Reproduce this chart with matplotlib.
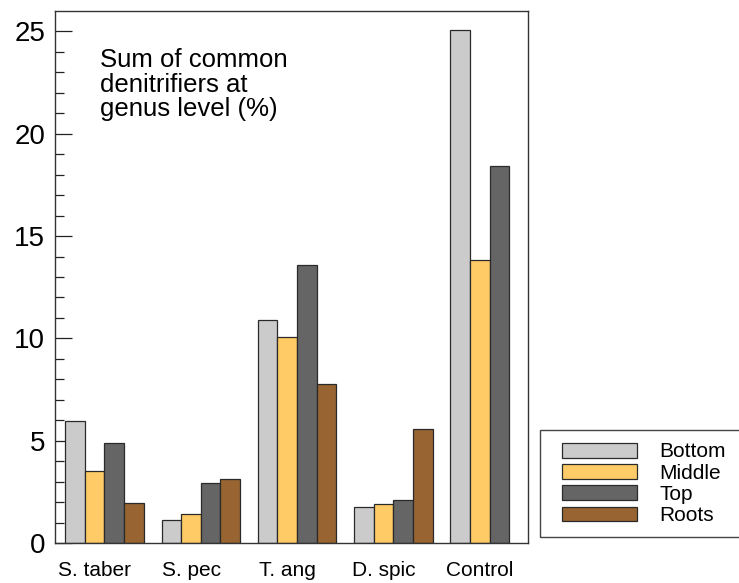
import numpy as np
import matplotlib
matplotlib.use("Agg")
import matplotlib.pyplot as plt
from matplotlib.patches import Patch, Rectangle

plt.rcParams['font.family'] = ['Liberation Sans', 'DejaVu Sans']

# denitrifier sums per site and layer (%)
sites = ['S. taber', 'S. pec', 'T. ang', 'D. spic', 'Control']
bottom = [5.95, 1.1, 10.88, 1.75, 25.05]
middle = [3.5, 1.4, 10.05, 1.93, 13.83]
top = [4.9, 2.92, 13.58, 2.1, 18.43]
roots = [1.96, 3.15, 7.75, 5.58, np.nan]

layers = ['Bottom', 'Middle', 'Top', 'Roots']
colors = ['#cbcbcb', '#fecb66', '#656565', '#976432']

fig = plt.figure(figsize=(7.39, 5.83), dpi=100)
ax = fig.add_axes([55 / 739, 1 - 543 / 583, 473 / 739, 532 / 583])

x = np.arange(len(sites))
w = 0.2035
series = [bottom, middle, top, roots]
for i, (vals, c) in enumerate(zip(series, colors)):
    ax.bar(x + (i - 1.5) * w, vals, w, color=c, edgecolor='#2a2a2a',
           linewidth=0.9, zorder=2)

ax.set_xlim(-0.514, 4.398)
ax.set_ylim(0, 26.0)
ax.set_yticks([0, 5, 10, 15, 20, 25])
ax.set_yticks(np.arange(0, 26, 1), minor=True)
ax.tick_params(axis='y', which='major', direction='in', length=12, width=0.9,
               pad=7, labelsize=20, colors='#222222', labelcolor='black')
ax.tick_params(axis='y', which='minor', direction='in', length=6.5, width=0.9,
               colors='#222222')
ax.set_xticks(x - 0.1)
ax.set_xticklabels(sites)
ax.tick_params(axis='x', length=0, pad=13, labelsize=15)
for s in ax.spines.values():
    s.set_linewidth(1.0)
    s.set_color('#333333')

ax.text(0.095, 0.93, 'Sum of common\ndenitrifiers at\ngenus level (%)',
        transform=ax.transAxes, ha='left', va='top', fontsize=18.5,
        linespacing=1.02)

# legend sits outside the axes, box runs off the right edge
fig.patches.append(Rectangle((540 / 739, 1 - 537 / 583), 0.4, 107 / 583,
                             transform=fig.transFigure, fill=False,
                             edgecolor='#444444', linewidth=1.0))
handles = [Patch(facecolor=c, edgecolor='#2a2a2a', linewidth=0.9) for c in colors]
fig.legend(handles, layers, loc='upper left',
           bbox_to_anchor=(552 / 739, 1 - 432 / 583), frameon=False,
           fontsize=15, handlelength=3.6, handleheight=0.72,
           handletextpad=1.05, labelspacing=0.11, borderpad=0)

fig.savefig('out.png', dpi=100)
